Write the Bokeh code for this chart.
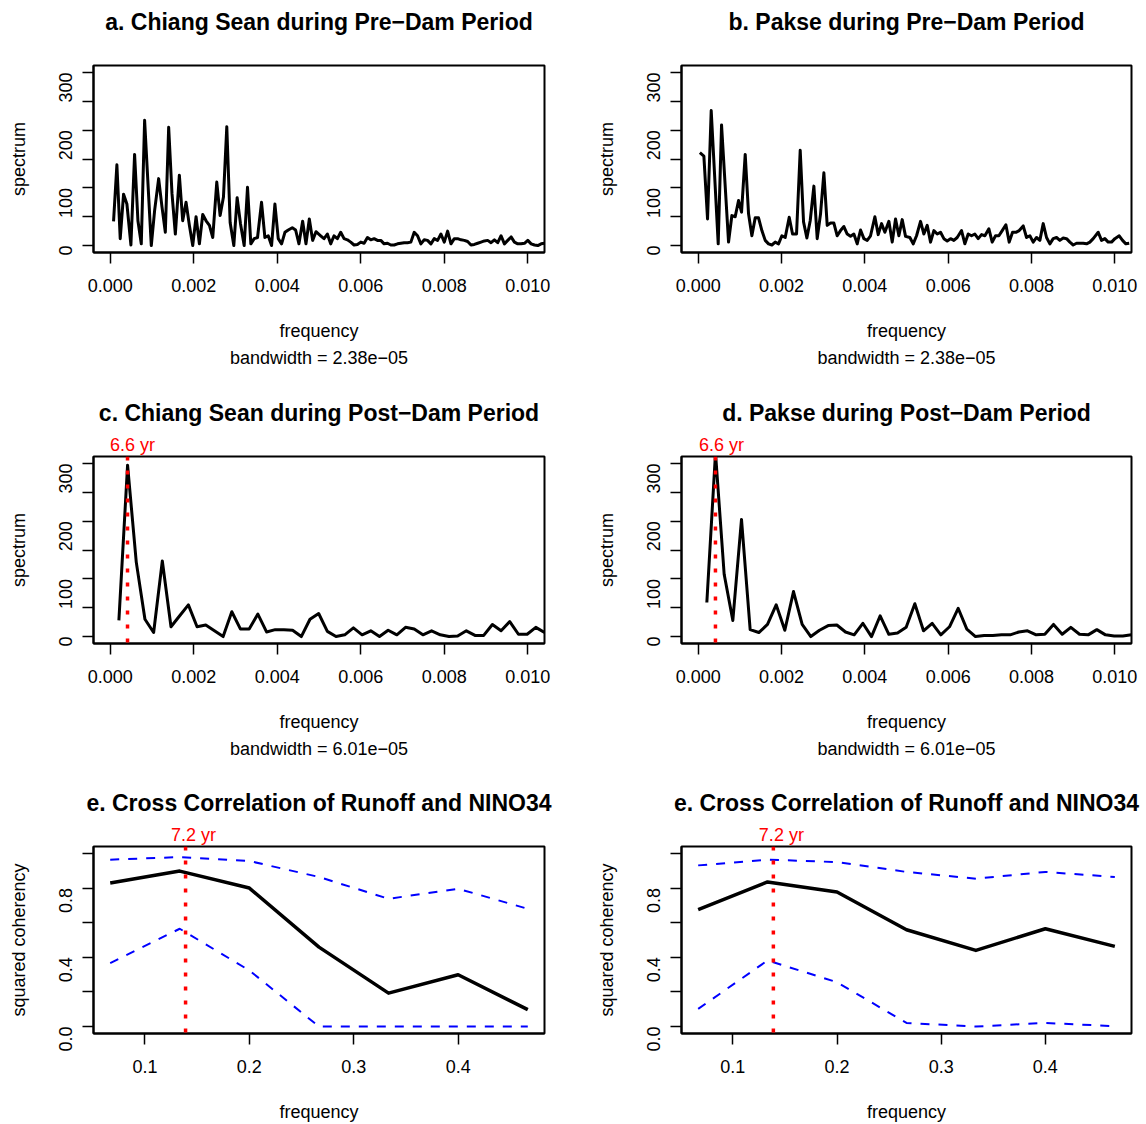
import math
from bokeh.plotting import figure
from bokeh.models import Range1d, FixedTicker, PrintfTickFormatter, Span, Title
from bokeh.layouts import gridplot
from bokeh.embed import file_html
from bokeh.resources import INLINE

FONT = "Liberation Sans"

# ---------------- data ----------------
# a. Chiang Sean pre-dam spectrum (frequency in 1e-3 cycles/day)
freq_a = [0.080, 0.160, 0.240, 0.320, 0.400, 0.496, 0.584, 0.664, 0.744, 0.824,
          0.984, 1.064, 1.160, 1.240, 1.320, 1.400, 1.480, 1.560, 1.656, 1.736,
          1.816, 1.896, 1.976, 2.056, 2.136, 2.216, 2.296, 2.376, 2.456, 2.552,
          2.632, 2.712, 2.792, 2.872, 2.960, 3.040, 3.120, 3.208, 3.288, 3.368,
          3.448, 3.528, 3.624, 3.704, 3.784, 3.864, 3.944, 4.024, 4.104, 4.184,
          4.264, 4.360, 4.440, 4.520, 4.608, 4.688, 4.768, 4.848, 4.928,
          5.040, 5.120, 5.200, 5.280, 5.360, 5.440, 5.520, 5.600, 5.680, 5.760,
          5.840, 5.920, 6.000, 6.080, 6.160, 6.240, 6.320, 6.400, 6.480, 6.560,
          6.640, 6.720, 6.800, 6.880, 6.960, 7.040, 7.120, 7.200, 7.280, 7.360,
          7.440, 7.520, 7.600, 7.680, 7.760, 7.840, 7.920, 8.000, 8.080, 8.160,
          8.240, 8.320, 8.400, 8.480, 8.560, 8.640, 8.720, 8.800, 8.880, 8.960,
          9.040, 9.120, 9.200, 9.280, 9.360, 9.440, 9.520, 9.600, 9.680, 9.760,
          9.840, 9.920, 10.000, 10.080, 10.160, 10.240, 10.320, 10.400]
spec_a = [42, 140, 12, 89, 72, 1, 158, 43, 3, 217,
          0, 61, 116, 67, 23, 205, 90, 20, 122, 43,
          75, 35, 0, 50, 3, 54, 43, 35, 14, 110,
          52, 84, 206, 40, 0, 83, 38, 0, 101, 3,
          12, 14, 75, 14, 17, 0, 72, 12, 3, 23,
          27, 31, 27, 3, 42, 3, 46, 9, 24,
          17, 12, 20, 3, 17, 12, 23, 12, 10, 6,
          1, 2, 6, 4, 14, 10, 12, 9, 9, 3,
          4, 1, 1, 3, 4, 5, 5, 6, 23, 17,
          3, 10, 9, 3, 12, 9, 20, 6, 25, 3,
          12, 12, 10, 9, 7, 1, 2, 4, 6, 8,
          9, 5, 10, 5, 17, 3, 9, 15, 6, 3,
          3, 4, 9, 3, 1, 0, 3, 4]

# b. Pakse pre-dam spectrum
freq_b = [0.041, 0.137, 0.225, 0.313, 0.481, 0.561, 0.729, 0.809, 0.889, 0.969,
          1.041, 1.129, 1.209, 1.289, 1.369, 1.449, 1.529, 1.609, 1.689, 1.769,
          1.849, 1.929, 2.009, 2.089, 2.185, 2.265, 2.361, 2.449, 2.529, 2.609,
          2.689, 2.777, 2.857, 2.937, 3.017, 3.097, 3.177, 3.257, 3.337, 3.417,
          3.497, 3.577, 3.657, 3.737, 3.817, 3.897, 3.977, 4.057, 4.137, 4.241,
          4.321, 4.401, 4.481, 4.577, 4.657, 4.737, 4.817, 4.897, 4.977,
          5.081, 5.161, 5.241, 5.337, 5.417, 5.497, 5.577, 5.657, 5.737, 5.817,
          5.897, 5.977, 6.057, 6.137, 6.217, 6.321, 6.401, 6.481, 6.561, 6.641,
          6.721, 6.801, 6.881, 6.977, 7.057, 7.137, 7.217, 7.297, 7.385, 7.465,
          7.545, 7.625, 7.705, 7.801, 7.881, 7.961, 8.041, 8.121, 8.201, 8.281,
          8.361, 8.441, 8.521, 8.601, 8.681, 8.761, 8.841, 8.921, 9.001, 9.081,
          9.161, 9.241, 9.321, 9.401, 9.481, 9.601, 9.681, 9.761, 9.841, 9.921,
          10.001, 10.105, 10.185, 10.265, 10.345]
spec_b = [161, 155, 46, 234, 3, 209, 6, 52, 50, 78,
          58, 158, 55, 17, 48, 48, 26, 9, 3, 1,
          6, 3, 17, 14, 49, 20, 20, 165, 41, 13,
          43, 103, 12, 55, 126, 35, 39, 39, 17, 26,
          33, 20, 16, 20, 3, 27, 12, 9, 17, 50,
          19, 38, 23, 42, 6, 46, 17, 45, 16,
          14, 3, 17, 42, 20, 35, 6, 26, 20, 23,
          12, 8, 12, 9, 14, 26, 3, 20, 17, 20,
          12, 19, 17, 29, 6, 17, 17, 26, 36, 6,
          23, 23, 26, 34, 14, 17, 6, 14, 9, 38,
          14, 3, 12, 14, 9, 13, 12, 6, 1, 4,
          4, 4, 3, 6, 12, 23, 9, 12, 6, 6,
          12, 17, 9, 3, 4]

# c/d. post-dam spectra (shared frequency grid)
freq_post = [0.208, 0.416, 0.624, 0.832, 1.040, 1.248, 1.456, 1.664, 1.872, 2.080,
             2.288, 2.496, 2.704, 2.912, 3.120, 3.328, 3.536, 3.744, 3.952, 4.160,
             4.368, 4.576, 4.784, 4.992, 5.200, 5.408, 5.616, 5.824, 6.032, 6.240,
             6.448, 6.656, 6.864, 7.072, 7.280, 7.488, 7.696, 7.904, 8.112, 8.320,
             8.528, 8.736, 8.944, 9.152, 9.360, 9.568, 9.776, 9.984, 10.192, 10.400]
spec_c = [28, 297, 129, 30, 7, 131, 17, 36, 55, 17,
          20, 10, 0, 43, 13, 13, 39, 8, 12, 12,
          11, 0, 30, 40, 9, 0, 3, 15, 3, 10,
          0, 11, 3, 16, 13, 3, 10, 3, 0, 1,
          10, 2, 2, 21, 10, 26, 4, 4, 16, 7]
spec_d = [59, 318, 108, 28, 203, 12, 7, 21, 55, 11,
          78, 21, 0, 11, 19, 20, 8, 3, 23, 0,
          36, 4, 6, 16, 57, 10, 23, 3, 17, 49,
          13, 0, 2, 2, 3, 3, 8, 10, 3, 4,
          21, 4, 16, 4, 3, 12, 3, 1, 1, 3]

# e. squared coherency with NINO34
freq_coh = [0.0667, 0.1333, 0.2000, 0.2667, 0.3333, 0.4000, 0.4667]
coh_cs = [0.829, 0.898, 0.800, 0.459, 0.193, 0.299, 0.098]
coh_cs_up = [0.964, 0.979, 0.956, 0.864, 0.738, 0.796, 0.680]
coh_cs_lo = [0.366, 0.565, 0.324, 0.0, 0.0, 0.0, 0.0]
coh_pk = [0.675, 0.835, 0.777, 0.559, 0.440, 0.565, 0.463]
coh_pk_up = [0.931, 0.964, 0.950, 0.893, 0.854, 0.893, 0.864]
coh_pk_lo = [0.102, 0.382, 0.256, 0.021, 0.0, 0.021, 0.002]

titles = ["a. Chiang Sean during Pre\u2212Dam Period",
          "b. Pakse during Pre\u2212Dam Period",
          "c. Chiang Sean during Post\u2212Dam Period",
          "d. Pakse during Post\u2212Dam Period",
          "e. Cross Correlation of Runoff and NINO34",
          "e. Cross Correlation of Runoff and NINO34"]
bandwidth_pre = "bandwidth = 2.38e\u221205"
bandwidth_post = "bandwidth = 6.01e\u221205"
period_post_yr = 6.6
period_coh_yr = 7.2

spec_xticks = [0.0, 0.002, 0.004, 0.006, 0.008, 0.010]
spec_yticks = [0, 100, 200, 300]
spec_yminor = [50, 150, 250]
coh_xticks = [0.1, 0.2, 0.3, 0.4]
coh_yticks = [0.0, 0.4, 0.8]
coh_yminor = [0.2, 0.6, 1.0]

spec_xr = (-0.0004, 0.0104)
spec_yr = (-12, 312)
coh_xr = (0.0507, 0.4827)
coh_yr = (-0.04, 1.04)

FRAME_W = {0: 451, 1: 450}
LABEL_HALF_W = 22.5  # half width of an 18px "6.6 yr" label


def make_fig(col, height, top_b, bot_b, xr, yr, title, ylab, bw,
             xticks, xfmt, yticks, yminor, yfmt, mark=None):
    if col == 0:
        lb, rb = 93, 29
    else:
        lb, rb = 108, 15
    p = figure(width=573, height=height, output_backend="svg", toolbar_location=None,
               x_range=Range1d(*xr), y_range=Range1d(*yr),
               min_border_left=lb, min_border_right=rb,
               min_border_top=top_b, min_border_bottom=bot_b)
    p.title = None
    # red period label sitting just above the frame (or an empty spacer)
    fw = FRAME_W[col]
    if mark is not None:
        f, txt, dx = mark
        off = (f - xr[0]) / (xr[1] - xr[0]) * fw + dx - LABEL_HALF_W
        p.add_layout(Title(text=txt, align="left", offset=off, text_font=FONT,
                           text_font_size="18px", text_font_style="normal",
                           text_color="red", standoff=3), "above")
    else:
        p.add_layout(Title(text=" ", align="center", text_font=FONT,
                           text_font_size="18px", text_font_style="normal",
                           text_color="white", standoff=3), "above")
    p.add_layout(Title(text=title, align="center", text_font=FONT, text_font_size="23px",
                       text_font_style="bold", text_color="black", standoff=12), "above")
    p.xgrid.visible = False
    p.ygrid.visible = False
    p.outline_line_color = "black"
    p.outline_line_width = 2
    p.outline_line_alpha = 1
    p.background_fill_color = "white"
    p.border_fill_color = "white"

    p.xaxis.ticker = FixedTicker(ticks=xticks)
    p.xaxis.formatter = PrintfTickFormatter(format=xfmt)
    p.yaxis.ticker = FixedTicker(ticks=yticks, minor_ticks=yminor)
    p.yaxis.formatter = PrintfTickFormatter(format=yfmt)
    p.yaxis.major_label_orientation = math.pi / 2
    for ax in (p.xaxis[0], p.yaxis[0]):
        ax.axis_line_color = "black"
        ax.axis_line_width = 2
        ax.major_tick_out = 11
        ax.major_tick_in = 0
        ax.minor_tick_out = 11
        ax.minor_tick_in = 0
        ax.major_tick_line_width = 1.5
        ax.minor_tick_line_width = 1.5
        ax.major_tick_line_color = "black"
        ax.minor_tick_line_color = "black"
        ax.major_label_text_font = FONT
        ax.major_label_text_font_size = "18px"
        ax.major_label_text_color = "black"
        ax.axis_label_text_font = FONT
        ax.axis_label_text_font_size = "18px"
        ax.axis_label_text_font_style = "normal"
        ax.axis_label_text_color = "black"
    p.xaxis.major_label_standoff = 15
    p.yaxis.major_label_standoff = 17
    p.xaxis.axis_label = "frequency"
    p.xaxis.axis_label_standoff = 26
    p.yaxis.axis_label = ylab
    p.yaxis.axis_label_standoff = 21
    if bw:
        p.add_layout(Title(text=bw, align="center", text_font=FONT, text_font_size="18px",
                           text_font_style="normal", text_color="black", standoff=4), "below")
    return p


def spec_fig(col, top_b, bot_b, title, bw, freq, spec, mark=None):
    p = make_fig(col, 390, top_b, bot_b, spec_xr, spec_yr, title, "spectrum", bw,
                 spec_xticks, "%.3f", spec_yticks, spec_yminor, "%d", mark)
    p.line([f * 1e-3 for f in freq], spec, line_color="black", line_width=3,
           line_join="round")
    return p


f_post = 1.0 / (period_post_yr * 365.25)
f_coh = 1.0 / period_coh_yr
lab_post = "%.1f yr" % period_post_yr
lab_coh = "%.1f yr" % period_coh_yr

pa = spec_fig(0, 65, 138, titles[0], bandwidth_pre, freq_a, spec_a)
pb = spec_fig(1, 65, 138, titles[1], bandwidth_pre, freq_b, spec_b)
pc = spec_fig(0, 66, 137, titles[2], bandwidth_post, freq_post, spec_c, (f_post, lab_post, 5))
pd = spec_fig(1, 66, 137, titles[3], bandwidth_post, freq_post, spec_d, (f_post, lab_post, 6))

for p in (pc, pd):
    p.add_layout(Span(location=f_post, dimension="height", line_color="red",
                      line_width=3.5, line_dash="4 10"))


def coh_fig(col, title, coh, up, lo):
    p = make_fig(col, 350, 66, 97, coh_xr, coh_yr, title, "squared coherency", None,
                 coh_xticks, "%.1f", coh_yticks, coh_yminor, "%.1f", (f_coh, lab_coh, 8))
    p.line(freq_coh, up, line_color="blue", line_width=2, line_dash="9 9")
    p.line(freq_coh, lo, line_color="blue", line_width=2, line_dash="9 9")
    p.line(freq_coh, coh, line_color="black", line_width=3.5, line_join="round")
    p.add_layout(Span(location=f_coh, dimension="height", line_color="red",
                      line_width=3.5, line_dash="4 10"))
    return p


pe = coh_fig(0, titles[4], coh_cs, coh_cs_up, coh_cs_lo)
pf = coh_fig(1, titles[5], coh_pk, coh_pk_up, coh_pk_lo)

grid = gridplot([[pa, pb], [pc, pd], [pe, pf]], toolbar_location=None)

open("out.html", "w").write(file_html(grid, INLINE))
